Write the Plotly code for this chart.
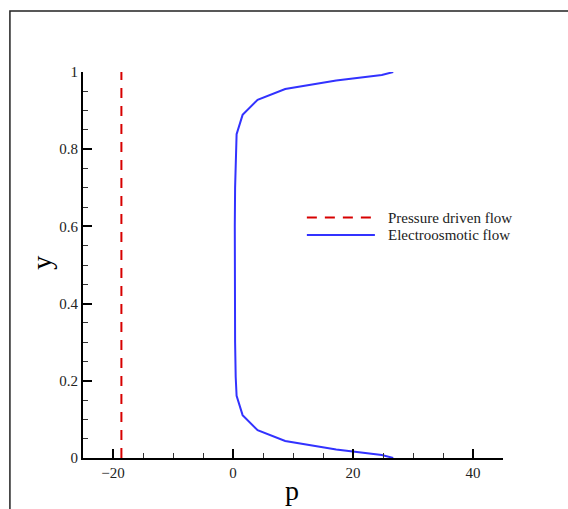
import plotly.graph_objects as go

# Velocity-profile data (wall-normal coordinate y vs. p)
y_pressure = [0.0, 1.0]
p_pressure = [-18.6, -18.6]

y_eof = [0.0, 0.008, 0.022, 0.044, 0.072, 0.111, 0.161, 0.21, 0.3, 0.4, 0.5,
         0.6, 0.7, 0.79, 0.839, 0.889, 0.928, 0.956, 0.978, 0.992, 1.0]
p_eof = [26.7, 24.8, 17.2, 8.7, 4.1, 1.6, 0.6, 0.45, 0.35, 0.3, 0.3,
         0.3, 0.35, 0.45, 0.6, 1.6, 4.1, 8.7, 17.2, 24.8, 26.7]

series_names = ["Pressure driven flow", "Electroosmotic flow"]
series_colors = ["rgb(215,0,0)", "rgb(50,50,255)"]

x_ticks = [-20, 0, 20, 40]
y_ticks = [0, 0.2, 0.4, 0.6, 0.8, 1]

FONT = "Liberation Serif, Times New Roman, serif"

fig = go.Figure()
fig.add_trace(go.Scatter(x=p_pressure, y=y_pressure, mode="lines",
                         name=series_names[0], showlegend=False,
                         line=dict(color=series_colors[0], width=2, dash="10px,8px")))
fig.add_trace(go.Scatter(x=p_eof, y=y_eof, mode="lines",
                         name=series_names[1], showlegend=False,
                         line=dict(color=series_colors[1], width=2)))

axis_common = dict(showgrid=False, zeroline=False, showline=True, linecolor="black",
                   linewidth=2, ticks="inside", ticklen=9, tickwidth=2,
                   tickcolor="black", mirror=False, automargin=False,
                   tickfont=dict(family=FONT, size=15, color="#222"))

fig.update_xaxes(range=[-25, 45], tickvals=x_ticks,
                 minor=dict(dtick=5, tick0=0, ticks="inside", ticklen=5,
                            tickwidth=1, tickcolor="#333"),
                 **axis_common)
fig.update_yaxes(range=[0, 1], tickvals=y_ticks,
                 minor=dict(dtick=0.05, tick0=0, ticks="inside", ticklen=5,
                            tickwidth=1, tickcolor="#333"),
                 **axis_common)

shapes = []
annotations = []

# Axis titles
annotations.append(dict(xref="paper", yref="paper", x=0.497, y=-0.085,
                        xanchor="center", yanchor="middle", showarrow=False,
                        text="p", font=dict(family=FONT, size=28, color="black")))
annotations.append(dict(xref="paper", yref="paper", x=-0.101, y=0.505,
                        xanchor="center", yanchor="middle", showarrow=False,
                        textangle=-90,
                        text="y", font=dict(family=FONT, size=28, color="black")))

# Hand-built legend: sample lines plus labels
legend_rows = [0.623, 0.578]
for name, color, row, dash in zip(series_names, series_colors, legend_rows,
                                  ["10px,8px", "solid"]):
    shapes.append(dict(type="line", xref="paper", yref="paper",
                       x0=0.533, x1=0.695, y0=row, y1=row,
                       line=dict(color=color, width=2, dash=dash)))
    annotations.append(dict(xref="paper", yref="paper", x=0.721, y=row,
                            xanchor="left", yanchor="middle", showarrow=False,
                            text=name, font=dict(family=FONT, size=15, color="#222")))

# Outer frame around the figure
shapes.append(dict(type="rect", xref="paper", yref="paper",
                   x0=-0.174, x1=1.25, y0=-0.25, y1=1.158,
                   line=dict(color="#222", width=1.5), layer="below"))

fig.update_layout(width=568, height=509,
                  margin=dict(l=83, r=65, t=72, b=51, autoexpand=False),
                  paper_bgcolor="white", plot_bgcolor="white",
                  shapes=shapes, annotations=annotations,
                  showlegend=False)

fig.write_html("out.html")
